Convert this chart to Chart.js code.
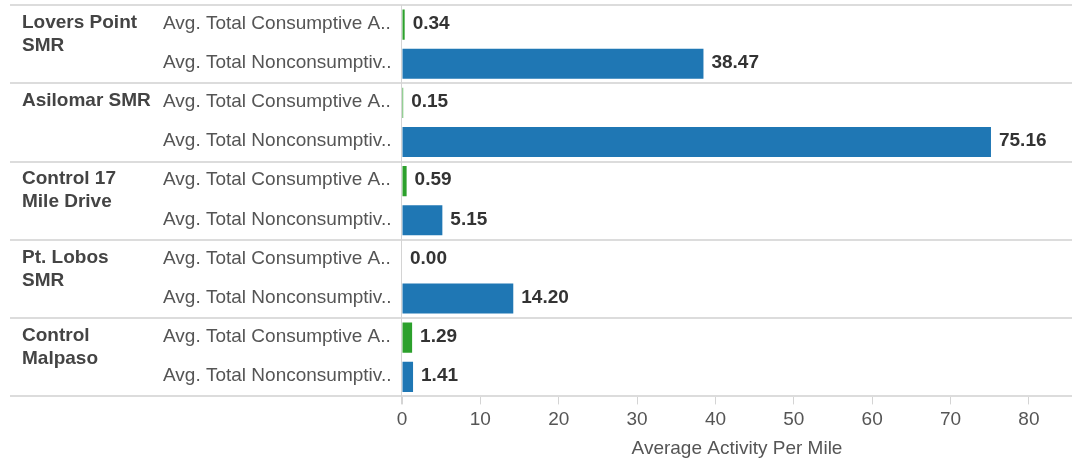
<!DOCTYPE html>
<html>
<head>
<meta charset="utf-8">
<script src="https://cdn.jsdelivr.net/npm/chart.js@4/dist/chart.umd.min.js"></script>
<style>
  html, body { margin: 0; padding: 0; background: #fff; }
  #wrap { width: 1074px; height: 462px; position: relative; }
</style>
</head>
<body>
<div id="wrap"><canvas id="chart"></canvas></div>
<script>
// Sites (group headers), each split in two measures
const sites = [['Lovers Point', 'SMR'], ['Asilomar SMR'], ['Control 17', 'Mile Drive'], ['Pt. Lobos', 'SMR'], ['Control', 'Malpaso']];
const measures = ['Avg. Total Consumptive A..', 'Avg. Total Nonconsumptiv..'];
const consumptive = [0.34, 0.15, 0.59, 0.00, 1.29];
const nonconsumptive = [38.47, 75.16, 5.15, 14.20, 1.41];
const xTicks = [0, 10, 20, 30, 40, 50, 60, 70, 80];

const GREEN = '#2ca02c';
const BLUE = '#1f77b4';
const FONT = '"Liberation Sans", Arial, sans-serif';

// interleave rows: consumptive then nonconsumptive for each site
const rowLabels = [];
const rowValues = [];
const rowColors = [];
sites.forEach((s, i) => {
    rowLabels.push(measures[0]); rowValues.push(consumptive[i]); rowColors.push(GREEN);
    rowLabels.push(measures[1]); rowValues.push(nonconsumptive[i]); rowColors.push(BLUE);
});

// Row headers, separators and value labels
const tablePlugin = {
    id: 'tableHeaders',
    afterDatasetsDraw(chart) {
        const ctx = chart.ctx;
        const area = chart.chartArea;
        const y = chart.scales.y;
        const meta = chart.getDatasetMeta(0);
        const rowH = (area.bottom - area.top) / rowLabels.length;
        ctx.save();

        // horizontal separators
        ctx.strokeStyle = '#dcdcdc';
        ctx.lineWidth = 2;
        for (let g = 0; g <= sites.length; g++) {
            const yy = Math.round(area.top + g * 2 * rowH);
            ctx.beginPath();
            ctx.moveTo(10, yy);
            ctx.lineTo(area.right, yy);
            ctx.stroke();
        }
        // zero line
        ctx.lineWidth = 1;
        ctx.strokeStyle = '#d4d4d4';
        ctx.beginPath();
        ctx.moveTo(area.left - 0.5, area.top);
        ctx.lineTo(area.left - 0.5, area.bottom + 8);
        ctx.stroke();

        // group labels
        ctx.fillStyle = '#444';
        ctx.font = 'bold 19px ' + FONT;
        ctx.textAlign = 'left';
        ctx.textBaseline = 'middle';
        sites.forEach((lines, i) => {
            const y0 = y.getPixelForValue(i * 2) - 2;
            lines.forEach((t, k) => ctx.fillText(t, 22, y0 + k * 23));
        });

        // measure labels
        ctx.fillStyle = '#555';
        ctx.font = '19px ' + FONT;
        rowLabels.forEach((t, i) => {
            ctx.fillText(t, 163, y.getPixelForValue(i) - 1);
        });

        // value labels
        ctx.fillStyle = '#333';
        ctx.font = 'bold 19px ' + FONT;
        meta.data.forEach((bar, i) => {
            const x = Math.max(bar.x, area.left) + 8;
            ctx.fillText(rowValues[i].toFixed(2), x, bar.y - 1);
        });
        ctx.restore();
    }
};

new Chart(document.getElementById('chart'), {
    type: 'bar',
    data: {
        labels: rowLabels,
        datasets: [{
            data: rowValues,
            backgroundColor: rowColors,
            borderColor: rowColors,
            borderWidth: 0,
            barPercentage: 0.77,
            categoryPercentage: 1
        }]
    },
    options: {
        indexAxis: 'y',
        responsive: true,
        maintainAspectRatio: false,
        animation: false,
        layout: { padding: { left: 10, right: 2, top: 5, bottom: 2 } },
        scales: {
            x: {
                min: 0,
                max: 85.5,
                afterBuildTicks: (scale) => { scale.ticks = xTicks.map(v => ({ value: v })); },
                grid: { drawOnChartArea: false, drawTicks: true, tickLength: 8, color: '#d4d4d4' },
                border: { display: false },
                ticks: { color: '#555', font: { family: FONT, size: 19 }, padding: 4 },
                title: { display: true, text: 'Average Activity Per Mile', color: '#555', font: { family: FONT, size: 19 }, padding: { top: 2, bottom: 0 } }
            },
            y: {
                grid: { display: false },
                border: { display: false },
                ticks: { display: false },
                afterFit: (scale) => { scale.width = 392; }
            }
        },
        plugins: { legend: { display: false }, tooltip: { enabled: false } }
    },
    plugins: [tablePlugin]
});
</script>
</body>
</html>
